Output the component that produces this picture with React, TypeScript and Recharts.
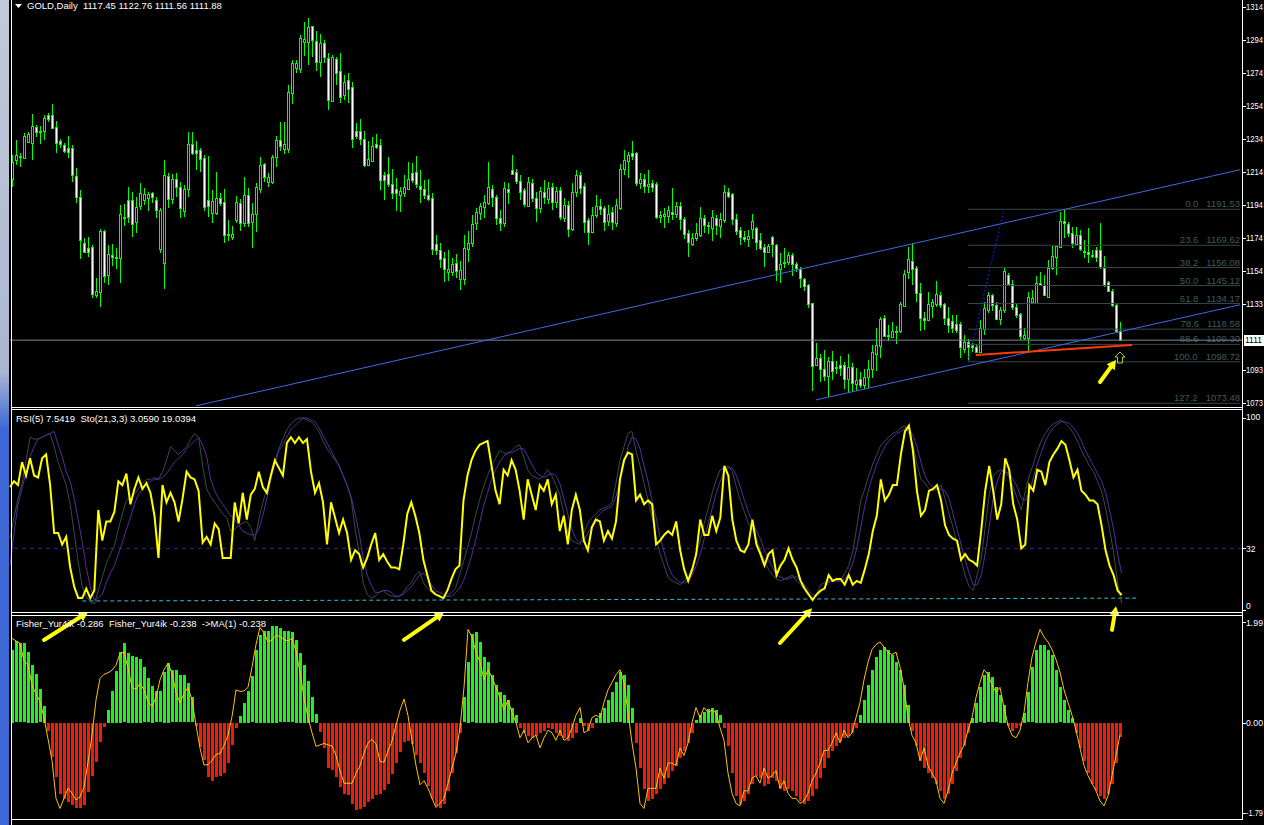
import React from "react";
import { ComposedChart, Bar, Line, XAxis, YAxis, ReferenceLine, ReferenceDot } from "recharts";

const FONT = '"Liberation Sans", Arial, Helvetica, sans-serif';
const FS = 9.5;
const AFS = 8.5;
const LIME = "#00ff00";
const SLOTS = 308;

// GOLD daily, oldest -> newest
const open = [
  1210.0, 1221.5, 1223.3, 1222.7, 1232.5, 1231.9, 1241.6, 1238.6, 1239.2, 1248.9,
  1248.9, 1241.6, 1233.1, 1230.6, 1228.8, 1228.8, 1211.8, 1199.0, 1171.0, 1168.0,
  1168.6, 1139.4, 1141.2, 1178.3, 1151.5, 1163.7, 1161.9, 1161.9, 1186.2, 1197.2,
  1197.2, 1183.8, 1193.5, 1197.2, 1198.4, 1201.4, 1197.2, 1167.4, 1158.8, 1211.8,
  1197.8, 1210.0, 1205.1, 1190.5, 1203.9, 1231.3, 1227.6, 1227.6, 1222.7, 1197.2,
  1189.3, 1189.3, 1198.4, 1196.0, 1176.5, 1174.7, 1185.0, 1195.4, 1183.2, 1200.2,
  1183.8, 1188.7, 1203.9, 1219.1, 1208.1, 1208.1, 1223.3, 1233.7, 1228.2, 1228.2,
  1262.3, 1277.5, 1276.9, 1293.3, 1293.3, 1303.1, 1293.9, 1281.2, 1292.7, 1283.6,
  1257.4, 1283.0, 1275.7, 1261.1, 1270.2, 1265.9, 1239.2, 1239.2, 1234.3, 1218.5,
  1220.9, 1231.3, 1230.6, 1212.4, 1213.0, 1206.9, 1203.9, 1200.2, 1201.4, 1203.9,
  1213.6, 1214.2, 1205.7, 1203.9, 1200.2, 1198.4, 1170.4, 1166.8, 1161.9, 1153.4,
  1153.4, 1158.8, 1149.1, 1149.1, 1167.4, 1171.0, 1183.2, 1189.3, 1192.9, 1195.4,
  1203.9, 1199.0, 1186.2, 1183.2, 1203.9, 1215.4, 1214.2, 1208.7, 1203.3, 1193.5,
  1207.5, 1198.4, 1192.3, 1202.0, 1197.8, 1205.1, 1196.0, 1203.3, 1186.2, 1194.2,
  1179.5, 1202.0, 1212.4, 1205.7, 1185.0, 1177.7, 1188.1, 1193.5, 1192.3, 1184.4,
  1189.9, 1183.2, 1192.3, 1216.1, 1220.9, 1225.8, 1225.8, 1207.5, 1210.0, 1205.7,
  1207.5, 1206.9, 1186.8, 1187.4, 1187.4, 1189.9, 1188.7, 1193.5, 1185.6, 1177.1,
  1170.4, 1174.1, 1175.9, 1186.2, 1181.4, 1180.2, 1186.2, 1181.4, 1185.0, 1202.0,
  1200.8, 1185.6, 1178.9, 1174.7, 1173.4, 1179.5, 1180.2, 1172.8, 1168.6, 1165.5,
  1174.7, 1169.8, 1155.2, 1158.8, 1159.4, 1163.7, 1158.2, 1155.2, 1149.1, 1145.4,
  1134.5, 1096.8, 1101.0, 1094.3, 1090.1, 1099.2, 1094.9, 1096.8, 1096.8, 1088.2,
  1095.5, 1085.2, 1088.2, 1084.6, 1089.4, 1094.3, 1103.5, 1108.3, 1125.4, 1114.4,
  1113.8, 1116.8, 1117.5, 1132.7, 1153.4, 1160.1, 1155.8, 1140.6, 1125.4, 1124.1,
  1132.7, 1133.9, 1139.4, 1133.9, 1125.4, 1123.5, 1121.7, 1121.7, 1106.5, 1110.8,
  1108.9, 1107.7, 1104.7, 1118.7, 1130.2, 1139.4, 1133.3, 1124.8, 1130.2, 1151.5,
  1146.1, 1132.1, 1127.8, 1113.2, 1113.2, 1135.1, 1134.5, 1146.7, 1145.4, 1138.1,
  1155.8, 1162.5, 1168.6, 1184.4, 1182.6, 1177.1, 1170.4, 1175.9, 1166.1, 1165.5,
  1163.4, 1166.8, 1166.8, 1155.8, 1147.3, 1141.8, 1133.3, 1117.45,
];
const high = [
  1224.6, 1233.7, 1225.8, 1238.0, 1238.6, 1249.5, 1242.8, 1242.2, 1248.9, 1250.1,
  1255.6, 1245.3, 1234.3, 1231.9, 1236.1, 1230.6, 1216.7, 1203.3, 1174.1, 1174.7,
  1169.8, 1149.7, 1179.5, 1178.9, 1169.8, 1170.4, 1168.0, 1194.2, 1194.8, 1205.1,
  1202.0, 1199.0, 1207.5, 1204.5, 1202.0, 1202.0, 1199.0, 1192.3, 1221.5, 1213.6,
  1213.0, 1213.6, 1208.1, 1206.3, 1238.6, 1238.6, 1233.1, 1228.8, 1224.6, 1223.9,
  1203.3, 1214.2, 1201.4, 1203.9, 1185.0, 1181.4, 1199.6, 1197.8, 1211.2, 1204.5,
  1195.4, 1207.5, 1223.3, 1219.7, 1213.6, 1224.6, 1236.1, 1244.7, 1244.7, 1267.2,
  1282.4, 1282.4, 1297.6, 1305.5, 1308.0, 1303.1, 1300.0, 1298.2, 1294.6, 1286.7,
  1285.4, 1284.2, 1286.7, 1273.3, 1274.5, 1269.0, 1244.0, 1246.5, 1239.2, 1233.1,
  1235.5, 1237.3, 1234.3, 1214.2, 1223.3, 1216.1, 1210.6, 1205.1, 1212.4, 1220.3,
  1219.7, 1223.9, 1215.4, 1209.4, 1210.0, 1201.4, 1175.9, 1171.0, 1165.5, 1166.8,
  1161.9, 1164.3, 1160.1, 1175.9, 1178.3, 1188.1, 1192.3, 1195.4, 1200.2, 1220.3,
  1206.3, 1200.2, 1191.1, 1208.1, 1207.5, 1224.6, 1216.1, 1212.4, 1204.5, 1211.2,
  1210.0, 1202.0, 1205.1, 1209.4, 1208.1, 1207.5, 1205.1, 1205.1, 1198.4, 1196.6,
  1207.5, 1215.4, 1214.2, 1207.5, 1186.2, 1192.9, 1200.2, 1197.8, 1193.5, 1194.2,
  1192.9, 1197.8, 1219.1, 1227.6, 1226.4, 1233.1, 1226.4, 1213.6, 1213.0, 1215.4,
  1209.4, 1208.1, 1190.5, 1192.3, 1193.5, 1204.5, 1196.0, 1196.0, 1186.8, 1178.9,
  1177.1, 1183.2, 1192.9, 1188.1, 1183.8, 1191.1, 1188.1, 1189.3, 1206.3, 1204.5,
  1201.4, 1188.7, 1180.8, 1178.3, 1178.9, 1188.7, 1180.8, 1177.1, 1170.4, 1170.4,
  1175.3, 1170.4, 1164.9, 1168.0, 1165.5, 1164.9, 1159.4, 1156.4, 1149.7, 1146.1,
  1134.5, 1110.2, 1103.5, 1105.9, 1101.6, 1105.3, 1099.2, 1102.2, 1098.6, 1103.5,
  1098.0, 1094.9, 1092.5, 1094.3, 1099.8, 1108.9, 1119.3, 1126.0, 1127.2, 1121.1,
  1122.9, 1120.5, 1135.1, 1154.6, 1168.6, 1171.0, 1157.0, 1146.7, 1129.0, 1141.2,
  1136.9, 1147.9, 1141.2, 1134.5, 1132.1, 1127.2, 1127.2, 1122.9, 1115.0, 1112.6,
  1110.2, 1109.6, 1124.1, 1135.1, 1141.2, 1140.0, 1135.1, 1132.1, 1156.4, 1152.8,
  1148.5, 1134.5, 1128.4, 1119.3, 1141.2, 1142.4, 1150.9, 1153.4, 1151.5, 1160.7,
  1169.2, 1169.2, 1189.9, 1191.1, 1183.8, 1180.8, 1180.8, 1178.9, 1172.8, 1180.2,
  1166.8, 1168.6, 1183.2, 1163.1, 1147.9, 1143.0, 1134.5, 1122.76,
];
const low = [
  1205.1, 1218.5, 1217.3, 1222.1, 1231.9, 1221.5, 1235.5, 1231.3, 1233.7, 1244.7,
  1240.4, 1225.8, 1228.8, 1225.8, 1222.7, 1208.1, 1195.4, 1161.3, 1164.9, 1162.5,
  1137.5, 1137.5, 1132.1, 1146.7, 1145.4, 1157.0, 1155.2, 1146.7, 1181.4, 1183.2,
  1174.7, 1177.1, 1191.1, 1194.2, 1190.5, 1195.4, 1186.2, 1164.9, 1143.0, 1192.3,
  1194.8, 1199.0, 1186.2, 1186.8, 1199.0, 1224.6, 1215.4, 1214.2, 1190.5, 1186.8,
  1183.2, 1188.1, 1193.5, 1171.0, 1172.2, 1172.8, 1183.2, 1178.3, 1180.8, 1180.8,
  1168.0, 1177.7, 1201.4, 1208.1, 1205.1, 1206.9, 1217.3, 1227.0, 1225.2, 1225.8,
  1255.6, 1274.5, 1274.5, 1284.8, 1279.3, 1284.2, 1275.7, 1272.0, 1280.6, 1252.0,
  1256.8, 1267.2, 1256.2, 1258.0, 1256.2, 1228.8, 1234.3, 1230.6, 1217.3, 1217.9,
  1220.9, 1228.2, 1203.3, 1197.2, 1205.1, 1197.8, 1190.5, 1189.9, 1199.0, 1203.3,
  1207.5, 1204.5, 1195.4, 1197.8, 1196.6, 1163.7, 1163.7, 1155.8, 1147.3, 1147.9,
  1150.9, 1149.7, 1142.4, 1145.4, 1159.4, 1168.6, 1178.9, 1185.0, 1186.2, 1194.2,
  1192.9, 1182.0, 1178.3, 1180.8, 1194.8, 1212.4, 1206.9, 1197.2, 1192.9, 1192.9,
  1196.0, 1183.8, 1189.3, 1194.8, 1194.8, 1191.1, 1192.3, 1185.0, 1183.8, 1174.7,
  1178.3, 1199.0, 1200.8, 1177.1, 1169.8, 1177.1, 1186.2, 1188.1, 1178.3, 1181.4,
  1178.9, 1180.8, 1191.1, 1212.4, 1210.6, 1221.5, 1205.7, 1203.9, 1201.4, 1201.4,
  1202.0, 1185.6, 1183.2, 1180.2, 1183.2, 1185.0, 1186.2, 1178.9, 1173.4, 1162.5,
  1169.2, 1172.2, 1174.7, 1177.1, 1176.5, 1172.2, 1175.9, 1174.1, 1183.2, 1198.4,
  1182.0, 1175.9, 1169.8, 1171.6, 1168.6, 1173.4, 1166.8, 1166.8, 1156.4, 1164.9,
  1162.5, 1147.9, 1146.7, 1155.8, 1157.6, 1150.9, 1153.4, 1143.6, 1141.8, 1131.5,
  1080.9, 1096.2, 1086.4, 1087.0, 1077.3, 1087.6, 1091.3, 1090.1, 1082.2, 1079.7,
  1080.3, 1080.9, 1082.8, 1082.2, 1082.8, 1088.8, 1093.1, 1101.0, 1113.8, 1111.4,
  1113.2, 1109.6, 1116.2, 1132.1, 1149.1, 1145.4, 1135.1, 1117.5, 1118.1, 1123.5,
  1125.4, 1132.1, 1131.5, 1121.1, 1116.2, 1116.2, 1116.2, 1101.0, 1104.1, 1099.2,
  1104.7, 1104.1, 1104.1, 1115.0, 1128.4, 1129.6, 1124.1, 1121.1, 1128.4, 1144.8,
  1130.2, 1125.4, 1112.0, 1112.0, 1104.7, 1134.5, 1134.5, 1144.8, 1138.8, 1138.1,
  1154.6, 1151.5, 1168.0, 1174.1, 1174.7, 1168.0, 1169.8, 1166.1, 1161.9, 1158.8,
  1161.9, 1159.4, 1155.2, 1144.2, 1141.2, 1132.1, 1116.8, 1111.56,
];
const close = [
  1220.3, 1224.6, 1223.9, 1236.1, 1237.3, 1242.2, 1238.6, 1239.2, 1247.1, 1246.5,
  1241.0, 1231.9, 1231.3, 1227.0, 1226.4, 1212.4, 1199.0, 1172.8, 1165.5, 1165.5,
  1140.0, 1141.8, 1178.3, 1150.9, 1164.3, 1162.5, 1162.5, 1188.7, 1186.8, 1186.8,
  1182.6, 1192.9, 1201.4, 1200.8, 1200.8, 1199.0, 1191.1, 1191.1, 1212.4, 1197.8,
  1210.0, 1205.1, 1192.3, 1203.9, 1231.3, 1225.8, 1225.8, 1222.1, 1192.9, 1193.5,
  1196.6, 1198.4, 1195.4, 1175.9, 1175.9, 1176.5, 1196.0, 1183.2, 1200.2, 1183.2,
  1188.7, 1205.1, 1218.5, 1211.2, 1211.2, 1223.3, 1233.7, 1230.0, 1231.3, 1262.9,
  1280.6, 1280.6, 1295.8, 1295.2, 1302.5, 1294.6, 1281.2, 1292.7, 1284.2, 1258.0,
  1284.2, 1274.5, 1259.9, 1269.0, 1264.7, 1234.3, 1236.1, 1234.3, 1218.5, 1222.1,
  1230.0, 1229.4, 1209.4, 1209.4, 1206.9, 1201.4, 1201.4, 1202.6, 1205.1, 1210.0,
  1209.4, 1206.9, 1203.9, 1200.2, 1197.8, 1167.4, 1166.8, 1161.3, 1155.2, 1155.2,
  1158.2, 1154.0, 1154.6, 1168.0, 1171.0, 1182.6, 1189.9, 1193.5, 1196.0, 1205.1,
  1199.0, 1186.2, 1183.2, 1204.5, 1202.0, 1213.0, 1208.7, 1202.0, 1194.8, 1208.1,
  1198.4, 1192.3, 1202.6, 1199.0, 1204.5, 1196.0, 1202.6, 1186.8, 1194.2, 1179.5,
  1202.0, 1212.4, 1204.5, 1183.8, 1177.7, 1188.1, 1193.5, 1191.7, 1183.8, 1188.7,
  1183.8, 1194.2, 1216.1, 1221.5, 1224.6, 1223.9, 1207.5, 1210.0, 1205.7, 1206.9,
  1205.1, 1186.8, 1188.1, 1188.7, 1191.1, 1188.7, 1193.5, 1185.6, 1176.5, 1171.6,
  1174.1, 1177.1, 1186.2, 1182.0, 1182.0, 1186.8, 1182.0, 1185.6, 1202.0, 1199.6,
  1185.6, 1178.3, 1174.7, 1173.4, 1175.3, 1184.4, 1171.6, 1168.0, 1165.5, 1169.2,
  1170.4, 1154.6, 1158.2, 1159.4, 1163.7, 1158.2, 1155.8, 1149.7, 1144.8, 1133.9,
  1096.2, 1101.0, 1094.3, 1090.1, 1099.2, 1093.1, 1095.5, 1094.9, 1088.2, 1095.5,
  1085.8, 1087.6, 1084.6, 1089.4, 1094.3, 1104.7, 1108.9, 1124.8, 1114.4, 1115.0,
  1117.5, 1117.5, 1133.9, 1152.1, 1161.3, 1155.2, 1140.6, 1125.4, 1124.1, 1133.9,
  1135.1, 1140.0, 1133.3, 1125.4, 1121.1, 1119.3, 1118.1, 1107.7, 1110.8, 1107.7,
  1107.7, 1104.7, 1119.3, 1131.5, 1139.4, 1133.3, 1124.8, 1130.2, 1154.0, 1146.1,
  1132.1, 1127.2, 1114.4, 1115.0, 1138.1, 1137.5, 1146.7, 1145.4, 1139.4, 1155.8,
  1163.1, 1169.2, 1184.4, 1183.2, 1177.1, 1171.0, 1175.9, 1167.4, 1165.5, 1164.3,
  1162.9, 1162.5, 1156.4, 1145.4, 1141.8, 1133.3, 1117.5, 1111.88,
];

// RSI(5)
const rsi5 = [
  64, 67, 65, 77, 70, 79, 70, 69, 79, 81,
  65, 40, 40, 34, 38, 22, 12, 6, 6, 11,
  6, 10, 52, 36, 46, 46, 51, 67, 65, 71,
  55, 63, 69, 63, 66, 61, 49, 27, 65, 56,
  61, 56, 46, 58, 72, 69, 68, 62, 35, 38,
  34, 45, 42, 27, 27, 27, 56, 45, 61, 47,
  60, 63, 72, 64, 61, 70, 78, 74, 70, 87,
  90, 87, 90, 87, 89, 72, 61, 66, 56, 34,
  56, 48, 40, 47, 40, 26, 31, 29, 22, 27,
  34, 40, 26, 29, 25, 22, 22, 21, 34, 50,
  56, 49, 40, 26, 18, 10, 8, 7, 6, 10,
  16, 21, 23, 57, 70, 78, 83, 86, 87, 88,
  75, 62, 55, 73, 70, 78, 73, 62, 47, 68,
  60, 52, 65, 62, 68, 55, 60, 41, 49, 34,
  52, 60, 52, 36, 31, 43, 47, 46, 36, 41,
  37, 46, 68, 78, 82, 81, 57, 60, 55, 57,
  55, 34, 36, 39, 41, 39, 46, 31, 21, 15,
  21, 29, 47, 39, 39, 49, 41, 48, 75, 70,
  47, 36, 31, 30, 34, 47, 34, 29, 23, 29,
  31, 18, 23, 26, 32, 26, 22, 15, 11, 8,
  5, 8, 10, 11, 18, 15, 16, 16, 13, 18,
  13, 15, 14, 21, 29, 41, 49, 68, 57, 60,
  65, 65, 81, 93, 96, 83, 62, 49, 52, 62,
  63, 65, 57, 44, 39, 37, 36, 26, 29, 26,
  25, 23, 41, 62, 75, 62, 47, 55, 79, 73,
  55, 47, 32, 34, 65, 62, 73, 72, 65, 77,
  81, 84, 88, 86, 78, 69, 73, 62, 60, 57,
  57, 55, 44, 31, 23, 18, 10, 7.54,
];
// Stochastic(21,3,3) main
const stoMain = [
  37, 48, 58, 66, 78, 90, 89, 89, 90, 91,
  92, 85, 77, 71, 65, 55, 40, 25, 12, 7,
  4, 3, 10, 17, 24, 29, 33, 42, 50, 57,
  58, 60, 63, 66, 68, 68, 69, 68, 72, 78,
  85, 83, 81, 83, 85, 89, 92, 90, 75, 63,
  59, 56, 53, 50, 48, 41, 42, 44, 45, 46,
  43, 36, 47, 56, 63, 70, 77, 84, 89, 94,
  97, 99, 100, 100, 99, 98, 96, 93, 88, 84,
  81, 78, 75, 70, 65, 58, 42, 30, 14, 8,
  6, 7, 9, 10, 8, 7, 7, 7, 9, 12,
  14, 18, 20, 14, 11, 9, 8, 7, 6, 7,
  9, 11, 18, 25, 32, 40, 49, 57, 64, 70,
  75, 79, 83, 82, 81, 83, 85, 86, 80, 73,
  70, 69, 68, 70, 73, 70, 65, 60, 50, 40,
  36, 35, 34, 40, 45, 48, 50, 52, 53, 54,
  56, 66, 78, 85, 92, 93, 83, 75, 66, 57,
  48, 38, 29, 23, 17, 15, 14, 13, 15, 17,
  22, 29, 36, 45, 53, 61, 68, 73, 74, 75,
  72, 64, 57, 51, 45, 42, 37, 31, 25, 21,
  18, 16, 15, 16, 17, 18, 15, 13, 10, 7,
  6, 8, 13, 14, 15, 15, 15, 15, 19, 23,
  30, 43, 57, 63, 70, 76, 81, 86, 88, 90,
  92, 93, 95, 96, 92, 86, 76, 68, 66, 63,
  62, 63, 65, 58, 50, 43, 34, 26, 18, 12,
  10, 18, 26, 43, 60, 70, 72, 73, 72, 69,
  64, 58, 52, 62, 70, 76, 83, 88, 92, 95,
  97, 98, 99, 97, 95, 92, 88, 83, 79, 75,
  72, 67, 62, 53, 42, 30, 14, 3.06,
];
// Stochastic signal
const stoSignal = [
  23, 40, 55, 63, 72, 80, 85, 89, 90, 91,
  92, 93, 86, 80, 72, 67, 58, 47, 35, 22,
  12, 5, 6, 8, 14, 19, 23, 29, 35, 42,
  48, 55, 60, 63, 66, 67, 68, 68, 69, 71,
  74, 77, 79, 81, 84, 86, 88, 90, 86, 80,
  68, 62, 58, 55, 52, 49, 47, 44, 41, 40,
  39, 39, 42, 49, 58, 68, 76, 83, 86, 90,
  94, 96, 98, 100, 100, 99, 98, 95, 91, 87,
  83, 79, 75, 70, 65, 59, 50, 40, 27, 18,
  13, 9, 9, 10, 10, 9, 7, 7, 8, 10,
  12, 15, 18, 19, 17, 13, 10, 9, 8, 7,
  7, 9, 11, 15, 21, 28, 36, 45, 54, 61,
  68, 73, 77, 80, 82, 82, 83, 84, 84, 80,
  76, 72, 70, 69, 70, 71, 70, 66, 58, 50,
  42, 37, 35, 36, 40, 44, 48, 50, 52, 53,
  54, 59, 67, 76, 85, 90, 89, 84, 75, 67,
  57, 48, 38, 30, 23, 18, 16, 14, 14, 15,
  18, 23, 29, 37, 45, 53, 61, 67, 72, 74,
  74, 70, 64, 57, 51, 46, 41, 37, 31, 26,
  22, 18, 17, 16, 16, 17, 17, 15, 13, 10,
  8, 7, 9, 12, 14, 15, 15, 15, 16, 19,
  24, 32, 43, 54, 63, 70, 76, 81, 85, 88,
  90, 92, 93, 95, 94, 91, 85, 77, 70, 66,
  64, 63, 63, 62, 58, 50, 42, 34, 26, 19,
  13, 13, 18, 29, 43, 58, 67, 72, 72, 71,
  68, 64, 58, 57, 61, 69, 76, 82, 88, 92,
  95, 97, 98, 98, 97, 95, 92, 88, 83, 79,
  75, 71, 67, 61, 52, 42, 29, 19.04,
];
// Fisher_Yur4ik histogram
const fisherHist = [
  1.44, 1.61, 1.57, 1.57, 1.41, 1.14, 0.97, 0.66, 0.33, -0.15,
  -0.67, -1.07, -1.41, -1.5, -1.57, -1.63, -1.68, -1.68, -1.63, -1.37,
  -1.06, -0.77, -0.37, -0.08, 0.25, 0.63, 1.03, 1.41, 1.57, 1.39,
  1.32, 1.31, 1.26, 1.1, 0.88, 0.73, 0.62, 0.62, 1.01, 1.19,
  1.04, 1.04, 0.94, 0.94, 0.78, 0.5, -0.05, -0.47, -0.74, -1.07,
  -1.15, -1.07, -1.06, -1.0, -0.8, -0.44, -0.09, 0.13, 0.4, 0.63,
  0.92, 1.44, 1.74, 1.82, 1.82, 1.92, 1.92, 1.87, 1.81, 1.81,
  1.79, 1.64, 1.39, 1.14, 0.83, 0.5, 0.17, -0.18, -0.49, -0.89,
  -0.94, -1.07, -1.27, -1.4, -1.43, -1.6, -1.72, -1.7, -1.67, -1.57,
  -1.5, -1.43, -1.4, -1.33, -1.2, -1.02, -0.8, -0.57, -0.37, -0.36,
  -0.41, -0.64, -0.8, -1.0, -1.25, -1.5, -1.65, -1.68, -1.6, -1.35,
  -1.0, -0.6, -0.2, 0.5, 1.2, 1.75, 1.8, 1.6, 1.3, 1.2,
  0.95, 0.75, 0.6, 0.55, 0.45, 0.3, 0.15, -0.1, -0.2, -0.25,
  -0.3, -0.25, -0.2, -0.15, -0.1, -0.12, -0.2, -0.25, -0.3, -0.35,
  -0.3, -0.2, 0.1, -0.05, -0.15, -0.1, 0.1, 0.2, 0.3, 0.45,
  0.6, 0.8, 1.0, 0.95, 0.75, 0.3, -0.4, -0.9, -1.3, -1.55,
  -1.5, -1.4, -1.3, -1.2, -1.1, -0.95, -0.85, -0.7, -0.55, -0.4,
  -0.2, 0.05, 0.15, 0.22, 0.28, 0.3, 0.25, 0.15, -0.1, -0.45,
  -1.0, -1.45, -1.6, -1.55, -1.4, -1.2, -1.05, -1.1, -1.25, -1.2,
  -1.1, -1.15, -1.3, -1.35, -1.3, -1.35, -1.45, -1.55, -1.6, -1.55,
  -1.45, -1.3, -1.1, -0.9, -0.7, -0.55, -0.45, -0.35, -0.3, -0.25,
  -0.2, -0.1, 0.15, 0.45, 0.75, 1.05, 1.3, 1.45, 1.5, 1.45,
  1.35, 1.2, 1.05, 0.75, 0.35, -0.15, -0.45, -0.75, -0.9, -1.0,
  -1.1, -1.2, -1.35, -1.5, -1.4, -1.2, -0.95, -0.7, -0.45, -0.2,
  0.1, 0.4, 0.7, 0.95, 1.0, 0.9, 0.7, 0.55, 0.35, -0.05,
  -0.15, -0.1, -0.05, 0.2, 0.6, 1.1, 1.45, 1.55, 1.55, 1.45,
  1.35, 1.05, 0.7, 0.45, 0.25, 0.1, -0.2, -0.5, -0.75, -1.0,
  -1.2, -1.35, -1.45, -1.5, -1.4, -1.2, -0.8, -0.286,
];
// Fisher signal line (MA(1))
const fisherLine = [
  1.67, 1.62, 1.57, 1.22, 1.15, 0.74, 0.57, 0.42, 0.1, -0.32,
  -0.75, -1.5, -1.7, -1.5, -1.3, -1.4, -1.53, -1.47, -1.28, -0.78,
  -0.25, 0.45, 0.88, 0.96, 0.99, 1.04, 1.14, 1.37, 1.4, 1.08,
  0.7, 0.66, 0.78, 0.65, 0.42, 0.32, 0.5, 0.85, 1.05, 1.18,
  0.98, 0.6, 0.39, 0.58, 0.7, 0.45, -0.05, -0.5, -0.84, -0.83,
  -0.75, -0.63, -0.61, -0.45, -0.25, 0.12, 0.65, 0.62, 0.63, 0.7,
  1.1, 1.55, 1.89, 1.78, 1.6, 1.64, 1.73, 1.71, 1.65, 1.62,
  1.67, 1.42, 1.0, 0.5, 0.1, -0.2, -0.47, -0.44, -0.41, -0.44,
  -0.46, -0.65, -0.95, -1.2, -1.2, -1.2, -1.0, -0.85, -0.6, -0.4,
  -0.33, -0.42, -0.77, -0.78, -0.56, -0.36, -0.05, 0.25, 0.47, 0.14,
  -0.35, -0.85, -1.23, -1.15, -1.3, -1.5, -1.68, -1.6, -1.5, -1.2,
  -0.9, -0.6, -0.1, 0.7, 1.85, 1.7, 1.4, 1.2, 0.85, 1.05,
  0.9, 0.7, 0.5, 0.25, 0.45, 0.2, 0.0, -0.3, -0.15, -0.4,
  -0.3, -0.25, -0.5, -0.3, -0.15, -0.2, -0.35, -0.15, -0.35, -0.3,
  -0.1, 0.15, 0.3, -0.2, -0.15, 0.1, 0.15, 0.1, 0.4, 0.65,
  0.8, 0.95, 1.05, 0.8, 0.2, -0.4, -0.9, -1.6, -1.7, -1.3,
  -1.3, -1.3, -0.9, -1.1, -0.8, -0.8, -0.85, -0.5, -0.65, -0.4,
  0.0, 0.3, 0.1, 0.3, 0.2, 0.25, 0.2, -0.1, -0.35, -1.0,
  -1.4, -1.6, -1.65, -1.35, -1.35, -1.1, -1.05, -1.2, -0.9, -1.1,
  -1.05, -0.95, -1.3, -1.15, -1.4, -1.5, -1.5, -1.6, -1.55, -1.4,
  -1.15, -1.0, -0.8, -0.55, -0.55, -0.4, -0.2, -0.4, -0.15, -0.3,
  -0.2, 0.1, 0.4, 0.85, 1.2, 1.45, 1.55, 1.6, 1.5, 1.4,
  1.35, 1.4, 1.1, 0.7, 0.1, -0.25, -0.4, -0.75, -0.5, -0.85,
  -1.0, -1.15, -1.5, -1.6, -1.35, -1.0, -0.8, -0.6, -0.45, -0.15,
  0.1, 0.5, 0.8, 1.05, 0.95, 0.75, 0.6, 0.7, 0.3, -0.05,
  -0.25, -0.3, -0.15, 0.2, 0.8, 1.3, 1.6, 1.85, 1.7, 1.6,
  1.45, 1.25, 1.0, 0.65, 0.4, 0.15, -0.15, -0.5, -0.85, -1.05,
  -1.2, -1.35, -1.55, -1.65, -1.45, -1.05, -0.65, -0.238,
];

const priceTicks = [1314.6, 1294.6, 1274.5, 1254.4, 1234.3, 1214.2, 1194.2, 1174.1, 1154.0, 1133.9, 1093.7, 1073.6];
const rsiTicks = [100, 32, 0];
const fisherTicks = [1.99, 0, -1.79];
const timeTicks = [0, 16, 32, 48, 64, 80, 96, 112, 128, 144, 160, 176, 192, 208, 224, 240, 256, 272, 288, 304];

const fibPct = ["0.0", "23.6", "38.2", "50.0", "61.8", "78.6", "88.6", "100.0", "127.2"];
const fibPrice = [1191.53, 1169.62, 1156.08, 1145.12, 1134.17, 1118.58, 1109.3, 1098.72, 1073.48];
const bid = 1111.88;

const rows = Array.from({ length: SLOTS }, (_, i) => ({
  i,
  o: open[i],
  h: high[i],
  l: low[i],
  c: close[i],
  range: i < open.length ? [low[i], high[i]] : null,
  rsi: rsi5[i],
  sm: stoMain[i],
  ss: stoSignal[i],
  fh: fisherHist[i],
  fl: fisherLine[i],
}));

function Candle(props: any) {
  const { x, y, width, height, payload } = props;
  if (!payload || payload.h == null) return null;
  const { o, h, l, c } = payload;
  const top = Math.min(y, y + height);
  const span = Math.abs(height);
  const k = span / (h - l || 1);
  const cx = Math.floor(x + width / 2);
  const yo = top + (h - o) * k;
  const yc = top + (h - c) * k;
  const bTop = Math.round(Math.min(yo, yc));
  const bh = Math.max(Math.round(Math.max(yo, yc)) - bTop, 0);
  const wTop = Math.round(top);
  return (
    <g shapeRendering="crispEdges">
      <rect x={cx} y={wTop} width={1} height={Math.max(1, Math.round(top + span) - wTop)} fill={LIME} />
      <rect x={cx - 1} y={bTop} width={3} height={bh + 1} fill={LIME} />
      {bh >= 2 && <rect x={cx} y={bTop + 1} width={1} height={bh - 1} fill={c < o ? "#ffffff" : "#000000"} />}
    </g>
  );
}

function HistBar(props: any) {
  const { x, y, width, height, value } = props;
  if (value == null) return null;
  const top = Math.round(Math.min(y, y + height));
  const hh = Math.max(1, Math.round(Math.abs(height)));
  const cx = Math.floor(x + width / 2);
  return <rect x={cx - 1} y={top} width={3} height={hh} fill={value >= 0 ? "#22ee22" : "#f41a0a"} shapeRendering="crispEdges" />;
}

function FatArrow(props: any) {
  const { x1, y1, x2, y2 } = props;
  const dx = x2 - x1;
  const dy = y2 - y1;
  const len = Math.hypot(dx, dy) || 1;
  const ux = dx / len;
  const uy = dy / len;
  const bx = x2 - ux * 9;
  const by = y2 - uy * 9;
  return (
    <g>
      <line x1={x1} y1={y1} x2={bx} y2={by} stroke="#ffff00" strokeWidth={4} strokeLinecap="round" />
      <polygon points={`${x2},${y2} ${bx - uy * 5},${by + ux * 5} ${bx + uy * 5},${by - ux * 5}`} fill="#ffff00" />
    </g>
  );
}

function HollowUp(props: any) {
  const { cx, cy } = props;
  const d = `M${cx},${cy - 6} L${cx + 5},${cy - 1} L${cx + 2.5},${cy - 1} L${cx + 2.5},${cy + 5} L${cx - 2.5},${cy + 5} L${cx - 2.5},${cy - 1} L${cx - 5},${cy - 1} Z`;
  return <path d={d} fill="none" stroke="#b4c83c" strokeWidth={1} />;
}

// right-hand scale label; squeezed so it stays inside the 22px price strip
function AxisTick(props: any) {
  const { x, y, payload, fmt, off } = props;
  const ty = Math.round(y) + 0.5;
  const s = fmt(payload.value);
  const room = 1263 - (x + 4);
  const natural = s.length * AFS * 0.55;
  return (
    <g>
      <line x1={x} x2={x + 4} y1={ty} y2={ty} stroke="#fff" />
      <text
        x={x + 4}
        y={y + (off ? off(payload.value) : 0)}
        dy={3.2}
        fill="#fff"
        fontSize={AFS}
        fontFamily={FONT}
        {...(natural > room ? { textLength: room, lengthAdjust: "spacingAndGlyphs" } : {})}
      >
        {s}
      </text>
    </g>
  );
}

const fibLabel = (pct: string, price: number) => (p: any) => {
  const vb = p.viewBox || {};
  return (
    <text x={vb.x + vb.width} y={vb.y - 2} textAnchor="end" fill="#3f5c5c" fontSize={FS} fontFamily={FONT}>
      {pct}
      <tspan dx={8}>{price.toFixed(2)}</tspan>
    </text>
  );
};

const txt = (left: number, top: number, s: string, color = "#fff"): React.ReactNode => (
  <div
    style={{ position: "absolute", left, top, fontFamily: FONT, fontSize: FS, lineHeight: "11px", color, whiteSpace: "pre" }}
  >
    {s}
  </div>
);

const hLine = (top: number, left = 11, width = 1232) => (
  <div style={{ position: "absolute", left, top, width, height: 1, background: "#fff" }} />
);

export default function App() {
  return (
    <div
      style={{ position: "fixed", left: 0, top: 0, width: 1264, height: 825, background: "#000", overflow: "hidden", fontFamily: FONT }}
    >
      {/* price panel */}
      <div style={{ position: "absolute", left: 0, top: 0 }}>
        <ComposedChart width={1264} height={407} data={rows} margin={{ top: 0, right: 0, bottom: 1, left: 10 }} barCategoryGap={0}>
          <XAxis dataKey="i" type="category" hide />
          <YAxis
            orientation="right"
            width={22}
            domain={[1071.8, 1318.9]}
            allowDataOverflow
            ticks={priceTicks}
            interval={0}
            tickSize={0}
            tickMargin={0}
            axisLine={false}
            tickLine={false}
            tick={<AxisTick fmt={(v: number) => String(Math.floor(v))} />}
          />
          {fibPrice.map((p, n) => (
            <ReferenceLine
              key={fibPct[n]}
              segment={[{ x: 239, y: p }, { x: 307, y: p }]}
              stroke="#354848"
              label={fibLabel(fibPct[n], p)}
            />
          ))}
          <ReferenceLine y={bid} stroke="#7b8799" />
          <ReferenceLine segment={[{ x: 46, y: 1071.9 }, { x: 307, y: 1215.6 }]} stroke="#4169e1" />
          <ReferenceLine segment={[{ x: 201, y: 1075.5 }, { x: 307, y: 1133.4 }]} stroke="#4169e1" />
          <ReferenceLine segment={[{ x: 239, y: 1098.72 }, { x: 248, y: 1191.53 }]} stroke="#1e1ef0" strokeDasharray="2 2" />
          <ReferenceLine segment={[{ x: 241, y: 1102.8 }, { x: 280, y: 1108.9 }]} stroke="#ff3c00" strokeWidth={2} />
          <Bar dataKey="range" shape={(p: any) => <Candle {...p} />} isAnimationActive={false} />
          <ReferenceDot x={277} y={1101.0} r={5} shape={(p: any) => <HollowUp {...p} />} />
          <ReferenceLine
            segment={[{ x: 272, y: 1086.4 }, { x: 276, y: 1099.8 }]}
            shape={(p: any) => <FatArrow {...p} />}
          />
        </ComposedChart>
      </div>

      {/* RSI / Stochastic panel */}
      <div style={{ position: "absolute", left: 0, top: 410 }}>
        <ComposedChart width={1264} height={204} data={rows} margin={{ top: 0, right: 0, bottom: 4, left: 10 }}>
          <XAxis dataKey="i" type="category" hide />
          <YAxis
            orientation="right"
            width={22}
            domain={[-0.2, 104.2]}
            allowDataOverflow
            ticks={rsiTicks}
            interval={0}
            tickSize={0}
            tickMargin={0}
            axisLine={false}
            tickLine={false}
            tick={<AxisTick fmt={(v: number) => String(v)} off={(v: number) => (v === 100 ? -1 : v === 0 ? -4 : 0)} />}
          />
          <ReferenceLine y={32} stroke="#4b1a8a" strokeDasharray="4 4" />
          <ReferenceLine segment={[{ x: 18, y: 4.5 }, { x: 281, y: 6.0 }]} stroke="#22c8d2" strokeDasharray="4 3" />
          <Line dataKey="sm" stroke="#2f4f4f" strokeWidth={1} dot={false} isAnimationActive={false} />
          <Line dataKey="ss" stroke="#5b2a9e" strokeWidth={1} dot={false} isAnimationActive={false} />
          <Line dataKey="rsi" stroke="#ffff00" strokeWidth={2} dot={false} isAnimationActive={false} />
        </ComposedChart>
      </div>

      {/* Fisher panel */}
      <div style={{ position: "absolute", left: 0, top: 598 }}>
        <ComposedChart width={1264} height={227} data={rows} margin={{ top: 18, right: 0, bottom: 0, left: 10 }} barCategoryGap={0}>
          <XAxis
            dataKey="i"
            type="category"
            ticks={timeTicks}
            interval={0}
            tick={false}
            tickSize={3}
            axisLine={false}
            tickLine={{ stroke: "#fff", shapeRendering: "crispEdges" } as any}
            height={6}
          />
          <YAxis
            orientation="right"
            width={22}
            domain={[-1.909, 2.115]}
            allowDataOverflow
            ticks={fisherTicks}
            interval={0}
            tickSize={0}
            tickMargin={0}
            axisLine={false}
            tickLine={false}
            tick={<AxisTick fmt={(v: number) => v.toFixed(2)} />}
          />
          <Bar dataKey="fh" shape={(p: any) => <HistBar {...p} />} isAnimationActive={false} />
          <Line dataKey="fl" stroke="#ffc400" strokeWidth={1} dot={false} isAnimationActive={false} />
          <ReferenceLine ifOverflow="visible" segment={[{ x: 8, y: 1.64 }, { x: 19, y: 2.19 }]} shape={(p: any) => <FatArrow {...p} />} />
          <ReferenceLine ifOverflow="visible" segment={[{ x: 98, y: 1.64 }, { x: 108, y: 2.19 }]} shape={(p: any) => <FatArrow {...p} />} />
          <ReferenceLine ifOverflow="visible" segment={[{ x: 192, y: 1.58 }, { x: 200, y: 2.27 }]} shape={(p: any) => <FatArrow {...p} />} />
          <ReferenceLine ifOverflow="visible" segment={[{ x: 275, y: 1.84 }, { x: 276, y: 2.31 }]} shape={(p: any) => <FatArrow {...p} />} />
        </ComposedChart>
      </div>

      {/* window chrome + frames */}
      <div
        style={{
          position: "absolute",
          left: 0,
          top: 0,
          width: 9,
          height: 825,
          background: "linear-gradient(#c3cad8 0%, #aab6d2 45%, #3d68d4 52%, #3d68d4 100%)",
        }}
      />
      <div style={{ position: "absolute", left: 11, top: 0, width: 1, height: 825, background: "#fff" }} />
      <div style={{ position: "absolute", left: 1242, top: 0, width: 1, height: 820, background: "#fff" }} />
      {hLine(407)}
      {hLine(409)}
      {hLine(612)}
      {hLine(615)}
      {hLine(819)}

      {/* bid price box */}
      <div
        style={{
          position: "absolute",
          left: 1244,
          top: 335,
          width: 20,
          height: 11,
          background: "#fff",
          color: "#000",
          fontSize: AFS,
          lineHeight: "11px",
          paddingLeft: 1,
          boxSizing: "border-box",
          whiteSpace: "pre",
        }}
      >
        1111
      </div>

      {/* captions */}
      <svg style={{ position: "absolute", left: 15, top: 4 }} width={7} height={5}>
        <polygon points="0,0 7,0 3.5,4" fill="#fff" />
      </svg>
      {txt(27, 0, "GOLD,Daily  1117.45 1122.76 1111.56 1111.88")}
      {txt(16, 413, "RSI(5) 7.5419  Sto(21,3,3) 3.0590 19.0394")}
      {txt(16, 618, "Fisher_Yur4ik -0.286  Fisher_Yur4ik -0.238  ->MA(1) -0.238")}
    </div>
  );
}
